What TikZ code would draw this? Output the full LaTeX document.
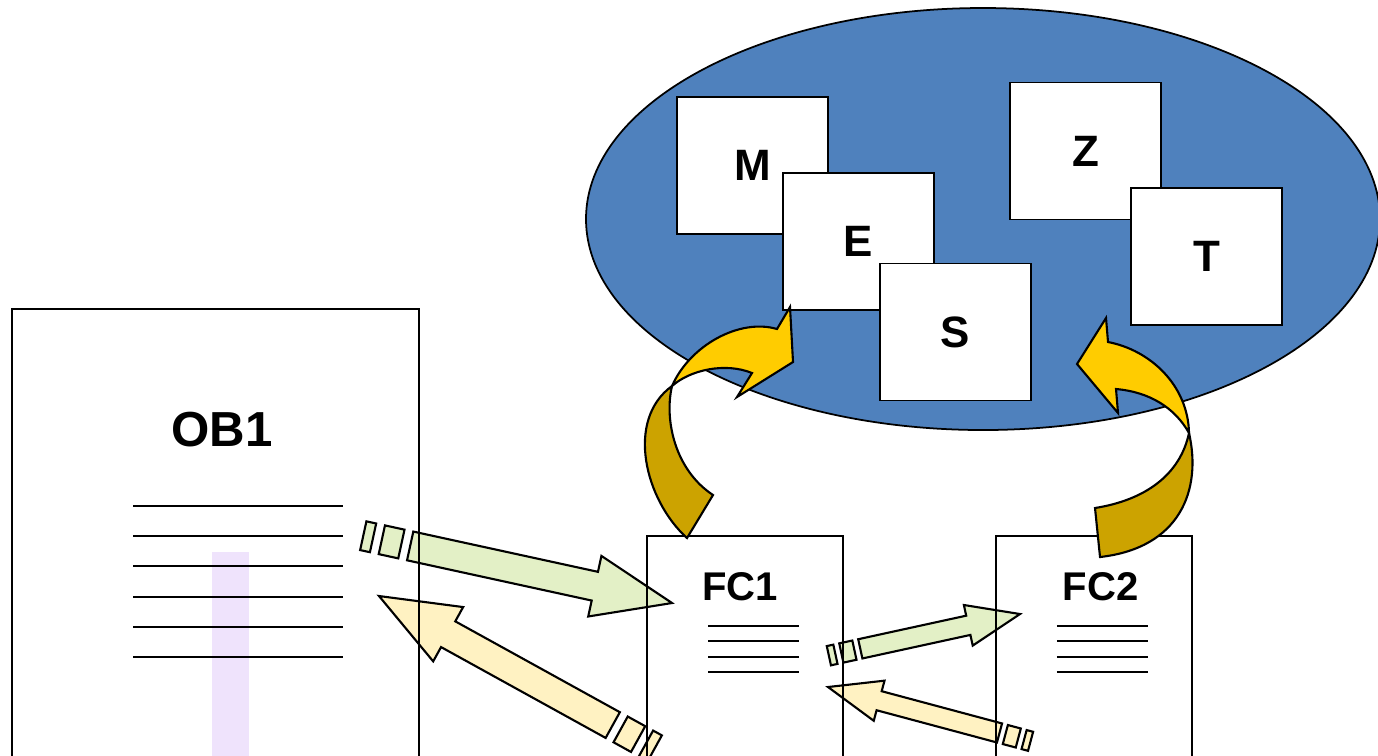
\documentclass[tikz,border=0pt]{standalone}
\usepackage{fontspec}
\setmainfont{Liberation Sans}
\usetikzlibrary{shapes.geometric, positioning, calc}
\definecolor{SpeicherBlau}{HTML}{4F81BD}
\definecolor{PfeilGruen}{HTML}{E3F0C6}
\definecolor{PfeilGelb}{HTML}{FFF2C2}
\definecolor{BogenGelb}{HTML}{FFCC00}
\definecolor{BogenGold}{HTML}{CCA300}
\definecolor{MarkLila}{HTML}{EFE3FC}

\begin{document}
\begin{tikzpicture}[
    % Karten im Speicherbereich
    karte/.style={
            rectangle,
            draw,
            fill=white,
            line width=0.5pt,
            minimum width=1.51cm,
            minimum height=1.37cm,
            inner sep=0pt,
            font=\bfseries\fontsize{12.5}{15}\selectfont
        },
    % Bausteine OB / FC
    baustein/.style={
            rectangle,
            draw,
            fill=white,
            line width=0.5pt,
            inner sep=0pt
        },
    titel/.style={
            font=\bfseries\fontsize{#1}{#1}\selectfont,
            inner sep=0pt
        },
    zeile/.style={line width=0.55pt},
    % Blockpfeile
    pfeil/.style={
            draw=black,
            line width=0.6pt,
            line join=miter,
            fill=#1,
            blend mode=multiply
        },
    bogen/.style={
            draw=black,
            line width=0.6pt,
            fill=#1
        },
    pics/streifenpfeil/.style 2 args={code={
                \draw[pfeil=#2] (0,0) -- (-0.79,0.31) -- (-0.79,0.147) -- (-#1,0.147)
                -- (-#1,-0.147) -- (-0.79,-0.147) -- (-0.79,-0.31) -- cycle;
                \draw[pfeil=#2] (-#1-0.09,0.147) rectangle (-#1-0.29,-0.147);
                \draw[pfeil=#2] (-#1-0.38,0.147) rectangle (-#1-0.48,-0.147);
            }}
    ]

    \useasboundingbox (0,0) rectangle (13.78,-7.55);

    % ========== SPEICHERBEREICH ==========
    \node[ellipse, draw, fill=SpeicherBlau, line width=0.5pt,
        minimum width=7.94cm, minimum height=4.22cm] (bereich) at (9.83,-2.19) {};

    \node[karte] (m) at (7.525,-1.655) {M};
    \node[karte] (e) at ($(m)+(1.06,-0.76)$) {E};
    \node[karte] (s) at ($(e)+(0.97,-0.905)$) {S};
    \node[karte] (z) at (10.855,-1.51) {Z};
    \node[karte] (t) at ($(z)+(1.21,-1.055)$) {T};

    % ========== OB1 ==========
    \node[baustein, minimum width=4.07cm, minimum height=4.71cm] (ob1) at (2.155,-5.445) {};
    \node[titel=14] (ob1txt) at ($(ob1.north)+(0.065,-1.21)$) {OB1};
    \fill[MarkLila] (2.12,-5.52) rectangle (2.49,-7.7);
    \foreach \i in {0,...,5}
    \draw[zeile] (1.33,-5.06-0.302*\i) -- (3.43,-5.06-0.302*\i);

    % ========== FC1 / FC2 ==========
    \node[baustein, minimum width=1.96cm, minimum height=2.54cm] (fc1) at (7.45,-6.63) {};
    \node[baustein, minimum width=1.96cm, minimum height=2.54cm, right=1.51cm of fc1] (fc2) {};
    \node[titel=11.4] (fc1txt) at ($(fc1.north)+(-0.05,-0.52)$) {FC1};
    \node[titel=11.4] (fc2txt) at ($(fc2.north)+(0.07,-0.52)$) {FC2};
    \foreach \f in {fc1,fc2}
    \foreach \i in {0,...,3}
    \draw[zeile] ($(\f.north)+(-0.37,-0.91-0.153*\i)$) -- ++(0.91,0);

    % ========== BOGENPFEILE ==========
    % FC1 -> E
    \draw[bogen=BogenGold] (6.87,-5.38) .. controls (6.45,-5.00) and (6.25,-4.20) .. (6.72,-3.86)
    .. controls (6.64,-4.20) and (6.75,-4.70) .. (7.13,-4.95) -- cycle;
    \draw[bogen=BogenGelb] (6.72,-3.86) .. controls (6.90,-3.45) and (7.40,-3.18) .. (7.77,-3.29)
    -- (7.90,-3.07) -- (7.93,-3.62) -- (7.37,-3.97) -- (7.52,-3.73)
    .. controls (7.25,-3.62) and (6.90,-3.70) .. (6.72,-3.86) -- cycle;
    % FC2 -> S
    \draw[bogen=BogenGold] (11.89,-4.33) .. controls (12.02,-4.90) and (11.80,-5.48) .. (11.00,-5.57)
    -- (10.95,-5.08) .. controls (11.45,-5.00) and (11.80,-4.75) .. (11.89,-4.33) -- cycle;
    \draw[bogen=BogenGelb] (11.06,-3.18) -- (10.77,-3.64) -- (11.18,-4.13) -- (11.16,-3.89)
    .. controls (11.50,-3.92) and (11.75,-4.08) .. (11.89,-4.33)
    .. controls (11.88,-3.85) and (11.50,-3.50) .. (11.08,-3.42) -- cycle;

    % ========== STREIFENPFEILE ==========
    \pic[rotate=-12.3] at (6.72,-6.03) {streifenpfeil={2.68}{PfeilGruen}};
    \pic[rotate=151.1] at (3.79,-5.96) {streifenpfeil={2.67}{PfeilGelb}};
    \pic[rotate=12.3, scale=0.67] at (10.20,-6.14) {streifenpfeil={2.44}{PfeilGruen}};
    \pic[rotate=165, scale=0.67] at (8.28,-6.87) {streifenpfeil={2.65}{PfeilGelb}};

\end{tikzpicture}
\end{document}
